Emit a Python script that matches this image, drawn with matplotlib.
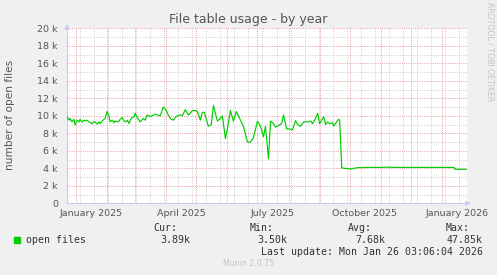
import matplotlib
matplotlib.use("Agg")
import matplotlib.pyplot as plt
import numpy as np
import pandas as pd

# daily open-file counts (day offset from 2024-12-23, value in k)
day_offsets = [0, 2, 3, 5, 7, 8, 10, 12, 13, 15, 17, 18, 20, 22, 25, 27, 28, 30, 32, 33, 35, 38,
               40, 42, 43, 45, 47, 48, 50, 52, 53, 55, 57, 58, 60, 62, 63, 65, 67, 68, 70, 73, 76, 78, 80,
               83, 85, 88, 90, 93, 96, 99, 101, 103, 106, 108, 110, 113, 115, 118, 121, 123, 125, 128, 130, 133, 135,
               137, 141, 144, 146, 150, 153, 155, 158, 160, 163, 166, 169, 173, 176, 180, 183,
               186, 190, 193, 196, 198, 199, 201, 203, 206, 208, 211, 214, 216, 219, 222, 225,
               228, 230, 233, 236, 240, 243, 245, 247, 250, 252, 256, 258, 260, 262, 265, 266,
               270, 271, 272, 274, 277, 283, 286, 290, 300, 315, 316, 330, 350, 370, 386, 387, 398]
open_files_k = [9.9, 9.5, 9.7, 9.3, 9.6, 8.95, 9.5, 9.3, 9.6, 9.3, 9.5, 9.4, 9.5, 9.3, 9.1, 9.35, 9.3, 9.05, 9.3, 9.1, 9.4, 9.7,
                10.5, 9.9, 9.3, 9.5, 9.2, 9.4, 9.3, 9.4, 9.6, 9.8, 9.4, 9.3, 9.5, 9.1, 9.5, 9.8, 9.9, 10.3, 9.8, 9.3, 9.7, 9.5, 10.1,
                9.9, 10.0, 10.2, 10.1, 10.0, 11.0, 10.6, 10.1, 9.7, 9.5, 9.8, 10.0, 10.1, 10.0, 10.7, 10.1, 10.3, 10.6, 10.6, 10.5, 9.5, 10.4,
                10.4, 8.8, 9.0, 11.2, 9.4, 9.7, 10.0, 7.4, 8.5, 10.6, 9.4, 10.5, 9.5, 8.8, 7.0, 7.0,
                7.5, 9.4, 8.8, 7.6, 8.8, 7.5, 5.1, 9.4, 9.1, 8.7, 8.9, 9.1, 10.1, 8.5, 8.5, 8.4,
                9.45, 9.0, 8.8, 9.3, 9.3, 9.4, 9.1, 9.5, 10.3, 9.1, 9.9, 9.0, 9.3, 9.1, 9.2, 8.8,
                9.5, 9.6, 9.5, 4.05, 4.0, 3.92, 4.0, 4.07, 4.1, 4.1, 4.13, 4.1, 4.1, 4.1, 4.1, 3.89, 3.89]

start = pd.Timestamp("2024-12-23")
end = pd.Timestamp("2026-01-26")
dates = start + pd.to_timedelta(day_offsets, unit="D")
values = np.array(open_files_k) * 1000

tick_dates = pd.to_datetime(["2025-01-16", "2025-04-16", "2025-07-16", "2025-10-16", "2026-01-16"])
tick_labels = ["January 2025", "April 2025", "July 2025", "October 2025", "January 2026"]

stat_names = ["Cur:", "Min:", "Avg:", "Max:"]
stat_values = ["3.89k", "3.50k", "7.68k", "47.85k"]

W, H = 497, 275
fig = plt.figure(figsize=(W / 100, H / 100), dpi=100, facecolor="#f0f0f0")

def px(x, y):
    return x / W, 1 - y / H

x0, y0 = px(67, 203.3)
x1, y1 = px(467, 28.3)
ax = fig.add_axes([x0, y0, x1 - x0, y1 - y0], facecolor="white")
ax.set_xlim(start, end)
ax.set_ylim(0, 20000)

txt = "#555555"
dot = (0, (1, 1.2))
# grid
for d in pd.date_range("2024-12-22", end, freq="14D"):
    ax.axvline(d, color="#d2d2d2", lw=0.72, ls=dot, zorder=1)
for d in pd.date_range("2025-01-01", end, freq="MS"):
    ax.axvline(d, color="#e9a3a3", lw=0.72, ls=dot, zorder=1.5)
for v in range(1000, 20001, 2000):
    ax.axhline(v, color="#d2d2d2", lw=0.72, ls=dot, zorder=1)
for v in range(2000, 20001, 2000):
    ax.axhline(v, color="#e9a3a3", lw=0.72, ls=dot, zorder=1.5)

ax.plot(dates, values, color="#00cc00", lw=0.85, zorder=3)

for s in ["top", "right"]:
    ax.spines[s].set_visible(False)
for s in ["left", "bottom"]:
    ax.spines[s].set_color("#c8c8f5")
    ax.spines[s].set_linewidth(0.8)
ax.annotate("", xy=(0, 1.04), xytext=(0, 0.995), xycoords="axes fraction",
            arrowprops=dict(arrowstyle="-|>", color="#c8c8f5", lw=0.8, mutation_scale=7), annotation_clip=False)
ax.annotate("", xy=(1.017, 0), xytext=(0.998, 0), xycoords="axes fraction",
            arrowprops=dict(arrowstyle="-|>", color="#c8c8f5", lw=0.8, mutation_scale=7), annotation_clip=False)

yt = list(range(0, 20001, 2000))
ax.set_yticks(yt)
ax.set_yticklabels(["0"] + ["%d k" % (v // 1000) for v in yt[1:]])
ax.set_xticks(tick_dates)
ax.set_xticklabels(tick_labels)
ax.tick_params(length=0, labelsize=6.8, labelcolor=txt)
ax.tick_params(axis="y", pad=6.5)
ax.tick_params(axis="x", pad=4)

fig.text(*px(248, 19.5), "File table usage - by year", ha="center", va="center", fontsize=9, color=txt)
fig.text(*px(10, 115), "number of open files", rotation=90, ha="center", va="center", fontsize=7.6, color=txt)
fig.text(*px(490, 52), "RRDTOOL / TOBI OETIKER", rotation=270, ha="center", va="center", fontsize=5.6, color="#c4c4c4")

mono = "DejaVu Sans Mono"
fig.patches.append(plt.Rectangle(px(14, 242.7), 6 / W, 5.5 / H, transform=fig.transFigure, color="#00cc00"))
fig.text(*px(26, 240), "open files", ha="left", va="center", fontsize=7.1, family=mono, color="#333333")
for name, val, xn, xv in zip(stat_names, stat_values, [177, 274, 371.7, 470], [190, 287.3, 385, 482.7]):
    fig.text(*px(xn, 227.7), name, ha="right", va="center", fontsize=7.1, family=mono, color="#333333")
    fig.text(*px(xv, 240), val, ha="right", va="center", fontsize=7.1, family=mono, color="#333333")
fig.text(*px(482.7, 251.7), "Last update: Mon Jan 26 03:06:04 2026", ha="right", va="center",
         fontsize=7.1, family=mono, color="#333333")
fig.text(*px(248, 263.7), "Munin 2.0.75", ha="center", va="center", fontsize=5.6, color="#c4c4c4")

fig.savefig("out.png", dpi=100, facecolor=fig.get_facecolor())
